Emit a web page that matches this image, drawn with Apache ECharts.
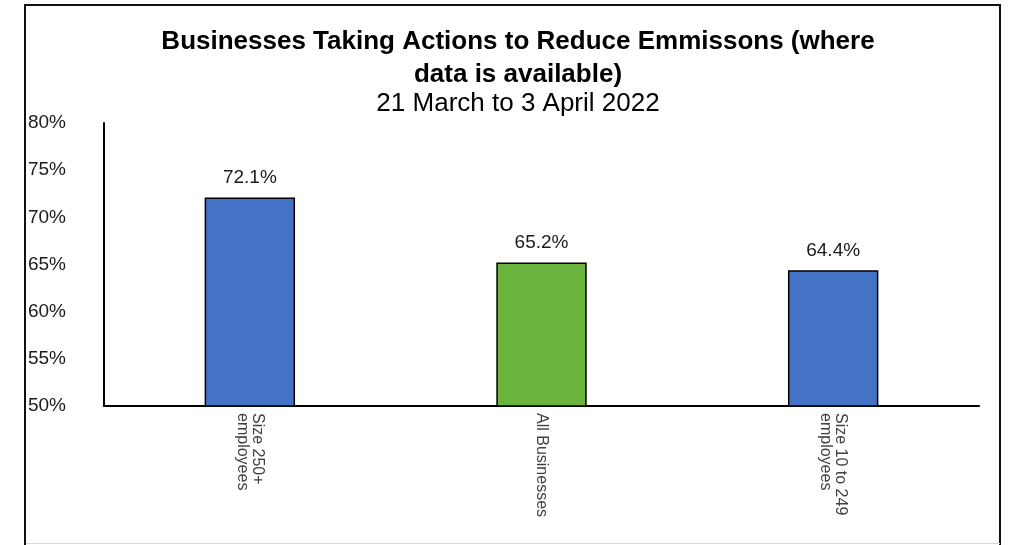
<!DOCTYPE html>
<html><head><meta charset="utf-8">
<script src="https://cdn.jsdelivr.net/npm/echarts@6/dist/echarts.min.js"></script>
<style>html,body{margin:0;padding:0;background:#fff}#c{width:1010px;height:545px}</style>
</head><body><div id="c"></div>
<script>
const categories = ['Size 250+\nemployees', 'All Businesses', 'Size 10 to 249\nemployees'];
const values = [72.1, 65.2, 64.4];
const barColors = ['#4472C4', '#6AB43E', '#4472C4'];
const yMin = 50, yMax = 80, yStep = 5;

const chart = echarts.init(document.getElementById('c'));
chart.setOption({
  animation: false,
  backgroundColor: '#fff',
  graphic: [
    {type: 'rect', shape: {x: 25, y: 5, width: 975, height: 545}, style: {fill: 'none', stroke: '#111', lineWidth: 2}, z: 100},
    {type: 'line', shape: {x1: 26, y1: 543.5, x2: 1000, y2: 543.5}, style: {stroke: '#d9d9d9', lineWidth: 1}, z: 101}
  ],
  title: {
    text: 'Businesses Taking Actions to Reduce Emmissons (where\ndata is available)',
    subtext: '21 March to 3 April 2022',
    left: 513, top: 20, textAlign: 'center',
    itemGap: 0,
    textStyle: {fontFamily: 'Liberation Sans', fontWeight: 'bold', fontSize: 26, color: '#000', lineHeight: 33},
    subtextStyle: {fontFamily: 'Liberation Sans', fontSize: 26, color: '#000', lineHeight: 26}
  },
  grid: {left: 104, right: 31, top: 123, bottom: 139, containLabel: false},
  xAxis: {
    type: 'category', data: categories,
    axisLine: {lineStyle: {color: '#000', width: 2}},
    axisTick: {show: false},
    axisLabel: {rotate: -90, interval: 0, margin: 7, fontFamily: 'Liberation Sans', fontSize: 16, color: '#404040', lineHeight: 15}
  },
  yAxis: {
    type: 'value', min: yMin, max: yMax, interval: yStep,
    axisLine: {show: true, lineStyle: {color: '#000', width: 2}},
    axisTick: {show: false},
    splitLine: {show: false},
    axisLabel: {formatter: '{value}%', margin: 38, fontFamily: 'Liberation Sans', fontSize: 19, color: '#1a1a1a'}
  },
  series: [{
    type: 'bar', barWidth: '31%',
    data: values.map((v, i) => ({value: v, itemStyle: {color: barColors[i]}})),
    itemStyle: {borderColor: '#000', borderWidth: 1.5},
    label: {show: true, position: 'top', distance: 10, formatter: p => p.value.toFixed(1) + '%', fontFamily: 'Liberation Sans', fontSize: 19, color: '#1a1a1a'}
  }]
});
</script></body></html>
